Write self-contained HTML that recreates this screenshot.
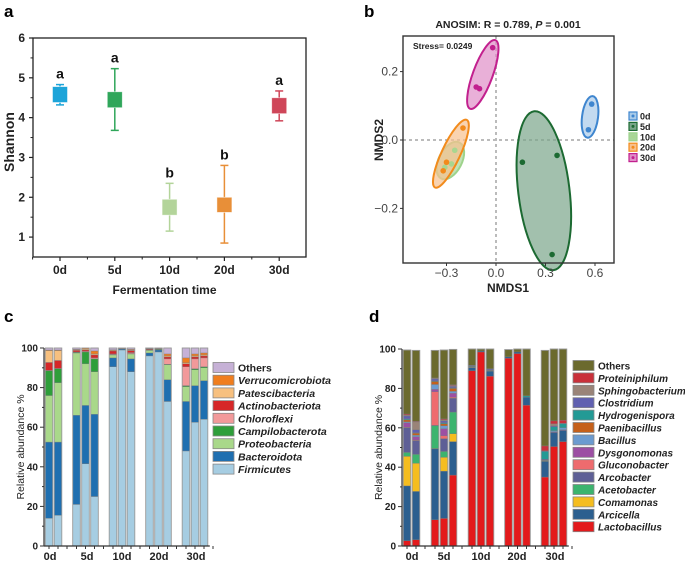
<!DOCTYPE html>
<html><head><meta charset="utf-8"><style>
body{margin:0;background:#fff}
svg{display:block;font-family:"Liberation Sans",Arial,sans-serif}
</style></head><body>
<svg id="fig" width="685" height="562" viewBox="0 0 685 562" xmlns="http://www.w3.org/2000/svg"></svg>
<script>
// ---------- Panel a data ----------
const aCats=["0d","5d","10d","20d","30d"];
const aBoxLow=[4.38,4.25,1.55,1.62,4.1];
const aBoxHigh=[4.78,4.65,1.95,2.0,4.5];
const aWhiskLow=[4.32,3.68,1.15,0.85,3.92];
const aWhiskHigh=[4.83,5.23,2.35,2.8,4.67];
const aLetters=["a","a","b","b","a"];
const aYTicks=[1,2,3,4,5,6];
// ---------- Panel b data ----------
const bGroups=["0d","5d","10d","20d","30d"];
const bX=[[0.58,0.56],[0.16,0.37,0.34],[-0.25,-0.27,-0.31],[-0.2,-0.3,-0.32],[-0.02,-0.12,-0.1]];
const bY=[[0.105,0.03],[-0.065,-0.045,-0.335],[-0.03,-0.07,-0.08],[0.035,-0.065,-0.09],[0.27,0.155,0.15]];
const bXTicks=[-0.3,0.0,0.3,0.6];
const bYTicks=[0.2,0.0,-0.2];
// ---------- Panel c data ----------
const cSeries=["Firmicutes","Bacteroidota","Proteobacteria","Campilobacterota","Chloroflexi","Actinobacteriota","Patescibacteria","Verrucomicrobiota","Others"];
const cGroups=["0d","5d","10d","20d","30d"];
const cGroupSizes=[2,3,3,3,3];
const cFirm=[14,15.5,21,41.5,25,90.5,99,88,96,98,73,48,62.5,64];
const cBact=[38.5,37,45,29.5,41.5,4.5,0.5,6.5,1.5,1,11,25,18.5,19.5];
const cProt=[23.5,30,31.5,21,21.5,1.5,0.1,2.5,1.3,0.2,7.5,7.5,8,6.5];
const cCamp=[12.5,7,0.3,6,6.5,0.2,0.1,0.2,0.2,0.3,0.3,0.5,0.5,0.5];
const cChlo=[0.2,0.2,0.2,0.3,0.5,0.3,0.1,0.5,0.1,0.1,2.7,9.5,5,4.5];
const cActi=[4,4,0.8,0.7,1.5,1.5,0.2,1,0.4,0.1,1,1.5,1,1];
const cPate=[6,5,0.3,0.5,0.5,0.3,0.1,0.3,0.1,0.1,0.5,0.5,0.5,0.5];
const cVerr=[0.3,0.3,0.2,0.5,1.5,0.3,0.1,0.3,0.1,0.1,1,2.5,1,1];
const cOthe=[1,1,0.7,0,1.5,0.9,0.2,0.7,0.3,0.1,3,5,3,2.5];
const cTicks=[0,20,40,60,80,100];
// ---------- Panel d data ----------
const dSeries=["Lactobacillus","Arcicella","Comamonas","Acetobacter","Arcobacter","Gluconobacter","Dysgonomonas","Bacillus","Paenibacillus","Hydrogenispora","Clostridium","Sphingobacterium","Proteiniphilum","Others"];
const dLact=[2.7,3.2,13.3,14,36,89,98.5,86.2,95.3,97.7,71.5,35,50.5,53];
const dArci=[27.8,24.5,36,24,17,1.5,0.5,2.6,0.7,0.8,4,8,7,5.5];
const dComa=[15,14.3,0.2,7,4,0.1,0,0.1,0,0,0,0.3,0,0];
const dAcet=[2,4.5,11.5,3,11,0.1,0,0.1,0,0,0,0.2,0,0];
const dArco=[12.5,7,0.3,6.5,7,0.1,0,0.1,0,0,0,0.5,0.5,0.5];
const dGluc=[0.3,0.3,17,1.5,0.5,0,0,0,0,0,0,0,0,0];
const dDysg=[2.2,1.7,1.2,3.5,2,0.1,0,0.1,0,0,0,0,0,0];
const dBaci=[0.5,0.7,2.5,1.5,1,0.1,0,0.1,0,0,0,0,0.5,1];
const dPaen=[1,1,1.5,1,1.5,0.1,0,0.1,0,0,0,0,0,0];
const dHydr=[0.5,0.3,0.3,0.5,0.3,0.3,0,0.1,0,0,0.7,4,2,2];
const dClos=[1.5,1.5,1,1,0.7,0.3,0,0.5,0,0,0,0.3,0.5,0.3];
const dSphi=[0.5,4,0.3,0.5,0.5,0,0,0,0,0,0,0,1,0];
const dProt=[0.5,0.3,0.2,0.5,0.3,0,0,0,0,0,0,2.5,1.5,1.5];
const dOthe=[32.5,36,14,35,18,8.5,1,10.5,3.7,1.5,23.8,48.5,36.5,36.2];
const dTicks=[0,20,40,60,80,100];
</script>
<script>
const NS="http://www.w3.org/2000/svg";
const svg=document.getElementById('fig');
function mk(tag,attrs,parent){const e=document.createElementNS(NS,tag);for(const k in attrs)e.setAttribute(k,attrs[k]);(parent||svg).appendChild(e);return e;}
function txt(s,attrs,parent){const e=mk('text',attrs,parent);e.textContent=s;return e;}
let el;

[["a",4,17],["b",364,17],["c",4,322],["d",369,322]].forEach(p=>{
  el=txt(p[0],{x:p[1],y:p[2],'font-size':17,'font-weight':'bold'});
  
  
});

// ================= Panel a =================
(function(){
  const L=33,R=306,T=38,B=257,ymin=0.5,ymax=6;
  const ys=v=>B-(v-ymin)/(ymax-ymin)*(B-T);
  const xs=i=>60+i*54.8;
  const colors=["#1ca4d9","#2fa65a","#b3d49a","#e88f38","#cf4659"];
  const g=mk('g',{});
  
  
  el=mk('rect',{x:L,y:T,width:R-L,height:B-T,fill:'none',stroke:'#222','stroke-width':1.3},g);
  
  
  aYTicks.forEach(t=>{
    mk('line',{x1:L-4,x2:L,y1:ys(t),y2:ys(t),stroke:'#222','stroke-width':1.2},g);
    el=txt(String(t),{x:L-8,y:ys(t)+4,'text-anchor':'end','font-size':12,'font-weight':'bold',fill:'#222'},g);
    
    
    if(t<6) mk('line',{x1:L-2.5,x2:L,y1:ys(t+0.5),y2:ys(t+0.5),stroke:'#222'},g);
  });
  aCats.forEach((c,i)=>{
    const x=xs(i);
    mk('line',{x1:x,x2:x,y1:B,y2:B+4,stroke:'#222','stroke-width':1.2},g);
    mk('line',{x1:x-27.4,x2:x-27.4,y1:B,y2:B+2.5,stroke:'#222'},g);
    el=txt(c,{x:x,y:B+17,'text-anchor':'middle','font-size':12,'font-weight':'bold',fill:'#222'},g);
    
    
    const col=colors[i];
    el=mk('line',{x1:x,x2:x,y1:ys(aWhiskLow[i]),y2:ys(aWhiskHigh[i]),stroke:col,'stroke-width':1.5},g);
    
    
    mk('line',{x1:x-4,x2:x+4,y1:ys(aWhiskLow[i]),y2:ys(aWhiskLow[i]),stroke:col,'stroke-width':1.5},g);
    mk('line',{x1:x-4,x2:x+4,y1:ys(aWhiskHigh[i]),y2:ys(aWhiskHigh[i]),stroke:col,'stroke-width':1.5},g);
    el=mk('rect',{x:x-7.5,y:ys(aBoxHigh[i]),width:15,height:ys(aBoxLow[i])-ys(aBoxHigh[i]),fill:col,stroke:'#fff','stroke-opacity':0.6,'stroke-width':0.8},g);
    
    
    el=txt(aLetters[i],{x:x,y:ys(aWhiskHigh[i])-6,'text-anchor':'middle','font-size':14,'font-weight':'bold',fill:'#111'},g);
    
    
  });
  el=txt("Shannon",{x:0,y:0,transform:'translate(14,142) rotate(-90)','text-anchor':'middle','font-size':14,'font-weight':'bold',fill:'#222'},g);
  
  
  el=txt("Fermentation time",{x:(L+R)/2-5,y:294,'text-anchor':'middle','font-size':12,'font-weight':'bold',fill:'#222'},g);
  
  
})();

// ================= Panel b =================
(function(){
  const L=403,R=614,T=36,B=263;
  const xs=v=>496+v*165;
  const ys=v=>140-v*342;
  const fill=["#a9cbe9","#7aa58a","#a8d69a","#f7c08e","#e08ec8"];
  const stroke=["#3f86cf","#1c6a32","#9ed38c","#f28b1c","#c2208e"];
  const dot=["#3f86cf","#1c6a32","#a9d690","#f28b1c","#c2208e"];
  const kA=[1,1.15,1,1,1];
  const kB=[1,1.1,1,0.6,1];
  const pad=[8,6,9,9,8];
  const g=mk('g',{});
  
  
  el=mk('line',{x1:L,x2:R,y1:ys(0),y2:ys(0),stroke:'#bbb','stroke-width':2,'stroke-dasharray':'3,3'},g);
  
  
  el=mk('line',{x1:xs(0),x2:xs(0),y1:T,y2:B,stroke:'#bbb','stroke-width':2,'stroke-dasharray':'3,3'},g);
  
  
  bGroups.forEach((gn,i)=>{
    const px=bX[i].map(xs), py=bY[i].map(ys);
    const n=px.length, mx=px.reduce((a,b)=>a+b)/n, my=py.reduce((a,b)=>a+b)/n;
    let sxx=0,syy=0,sxy=0;
    for(let j=0;j<n;j++){sxx+=(px[j]-mx)**2;syy+=(py[j]-my)**2;sxy+=(px[j]-mx)*(py[j]-my);}
    const th=0.5*Math.atan2(2*sxy,sxx-syy);
    let a=0,b=0;
    for(let j=0;j<n;j++){const dx=px[j]-mx,dy=py[j]-my;
      a=Math.max(a,Math.abs(dx*Math.cos(th)+dy*Math.sin(th)));
      b=Math.max(b,Math.abs(-dx*Math.sin(th)+dy*Math.cos(th)));}
    a=a*kA[i]+pad[i]; b=b*kB[i]+pad[i];
    el=mk('ellipse',{cx:mx,cy:my,rx:a,ry:b,transform:`rotate(${th*180/Math.PI} ${mx} ${my})`,fill:fill[i],'fill-opacity':0.7,stroke:stroke[i],'stroke-width':2},g);
    
    
  });
  bGroups.forEach((gn,i)=>{
    bX[i].forEach((v,j)=>{
      el=mk('circle',{cx:xs(v),cy:ys(bY[i][j]),r:2.8,fill:dot[i]},g);
      
      
    });
  });
  el=mk('rect',{x:L,y:T,width:R-L,height:B-T,fill:'none',stroke:'#333','stroke-width':1.4},g);
  
  
  bXTicks.forEach(t=>{
    mk('line',{x1:xs(t),x2:xs(t),y1:B,y2:B+3,stroke:'#333'},g);
    el=txt(t.toFixed(1).replace('-','\u2212'),{x:xs(t),y:B+14,'text-anchor':'middle','font-size':12,fill:'#444'},g);
    
    
  });
  bYTicks.forEach(t=>{
    mk('line',{x1:L-3,x2:L,y1:ys(t),y2:ys(t),stroke:'#333'},g);
    el=txt(t.toFixed(1).replace('-','\u2212'),{x:L-5,y:ys(t)+4,'text-anchor':'end','font-size':12,fill:'#444'},g);
    
    
  });
  el=txt("",{x:508,y:28,'text-anchor':'middle','font-size':10.5,'font-weight':'bold',fill:'#222'},g);
  el.innerHTML='ANOSIM: R = 0.789, <tspan font-style="italic">P</tspan> = 0.001';
  
  
  el=txt("Stress= 0.0249",{x:413,y:49,'font-size':8.5,'font-weight':'bold',fill:'#222'},g);
  
  
  el=txt("NMDS1",{x:508,y:292,'text-anchor':'middle','font-size':12,'font-weight':'bold',fill:'#222'},g);
  
  
  el=txt("NMDS2",{x:0,y:0,transform:'translate(383,140) rotate(-90)','text-anchor':'middle','font-size':12,'font-weight':'bold',fill:'#222'},g);
  
  
  bGroups.forEach((gn,i)=>{
    const y=116+i*10.4;
    el=mk('rect',{x:629,y:y-4,width:8,height:8,fill:fill[i],stroke:stroke[i],'stroke-width':1.2},g);
    
    
    mk('circle',{cx:633,cy:y,r:1.5,fill:dot[i]},g);
    el=txt(gn,{x:640,y:y+3.5,'font-size':9,'font-weight':'bold',fill:'#222'},g);
    
    
  });
})();

// ================= stacked bars helper =================
function stacked(cfg){
  const g=mk('g',{});
  
  
  const ys=v=>cfg.B-v/100*(cfg.B-cfg.T);
  mk('line',{x1:cfg.L,x2:cfg.L,y1:cfg.T,y2:cfg.B,stroke:'#333','stroke-width':1.2},g);
  cfg.ticks.forEach((t,k)=>{
    mk('line',{x1:cfg.L-4,x2:cfg.L,y1:ys(t),y2:ys(t),stroke:'#333'},g);
    if(k<cfg.ticks.length-1) mk('line',{x1:cfg.L-2,x2:cfg.L,y1:ys(t+10),y2:ys(t+10),stroke:'#333'},g);
    el=txt(String(t),{x:cfg.L-6,y:ys(t)+3.5,'text-anchor':'end','font-size':10,'font-weight':'bold',fill:'#222'},g);
    
    
  });
  el=txt("Relative abundance %",{x:0,y:0,transform:`translate(${cfg.L-20},${(cfg.T+cfg.B)/2}) rotate(-90)`,'text-anchor':'middle','font-size':10.5,fill:'#222'},g);
  
  
  let idx=0; const centers=[];
  cfg.groupSizes.forEach((n,gi)=>{
    const start=cfg.groupStart[gi];
    const cs=[];
    for(let j=0;j<n;j++){
      const cx=start+j*cfg.step; cs.push(cx);
      let cum=0;
      cfg.values.forEach((arr,si)=>{
        const v=arr[idx]; if(v<=0) return;
        el=mk('rect',{x:cx-cfg.bw/2,y:ys(Math.min(100,cum+v)),width:cfg.bw,height:ys(cum)-ys(Math.min(100,cum+v)),fill:cfg.colors[si],stroke:'#7a7a7a','stroke-width':0.35},g);
        
        
        cum+=v;
      });
      el=mk('rect',{x:cx-cfg.bw/2,y:ys(Math.min(100,cum)),width:cfg.bw,height:ys(0)-ys(Math.min(100,cum)),fill:'none',stroke:'#999','stroke-width':0.9},g);
      
      
      idx++;
    }
    centers.push(cs);
  });
  const xEnd=centers[centers.length-1].slice(-1)[0]+cfg.bw/2+2;
  mk('line',{x1:cfg.L,x2:xEnd,y1:cfg.B,y2:cfg.B,stroke:'#333','stroke-width':1.2},g);
  centers.forEach((cs,gi)=>{
    cs.forEach(cx=>mk('line',{x1:cx,x2:cx,y1:cfg.B,y2:cfg.B+3,stroke:'#333'},g));
    const last=cs[cs.length-1];
    mk('line',{x1:last+cfg.step,x2:last+cfg.step,y1:cfg.B,y2:cfg.B+3,stroke:'#333'},g);
    el=txt(cfg.groups[gi],{x:cfg.labelX[gi],y:cfg.B+14,'text-anchor':'middle','font-size':11,'font-weight':'bold',fill:'#222'},g);
    
    
  });
  const n=cfg.series.length;
  for(let k=0;k<n;k++){
    const si=n-1-k; const y=cfg.legY+k*cfg.legStep;
    el=mk('rect',{x:cfg.legX,y:y-cfg.legH/2,width:21,height:cfg.legH,fill:cfg.colors[si],stroke:'#888','stroke-width':0.8},g);
    
    
    el=txt(cfg.series[si],{x:cfg.legX+25,y:y+4,'font-size':cfg.legFont,'font-weight':'bold','font-style':si===n-1?'normal':'italic',fill:'#222'},g);
    
    
  }
}

stacked({name:'phylum-stacked-bar-chart',L:44,T:348,B:546,ticks:cTicks,
  series:cSeries,groups:cGroups,groupSizes:cGroupSizes,
  values:[cFirm,cBact,cProt,cCamp,cChlo,cActi,cPate,cVerr,cOthe],
  colors:["#a6cde2","#1f6fb0","#a9d88a","#2e9e3a","#f2999a","#d62728","#f7c07f","#f07e1e","#c6b1d6"],
  groupStart:[49,76.5,113,149.5,186],step:9,bw:7.6,labelX:[50,87,122,159,196],
  legX:213,legY:367.5,legStep:12.7,legH:10,legFont:10.5});

stacked({name:'genus-stacked-bar-chart',L:402,T:349,B:546,ticks:dTicks,
  series:dSeries,groups:cGroups,groupSizes:cGroupSizes,
  values:[dLact,dArci,dComa,dAcet,dArco,dGluc,dDysg,dBaci,dPaen,dHydr,dClos,dSphi,dProt,dOthe],
  colors:["#e31a1c","#2c5f8f","#f5bd1f","#3cb46e","#5e5f96","#ee6b6e","#9c4fa3","#6b9bd0","#c5601a","#239a95","#6060b0","#9a8478","#c9303a","#6b6a2e"],
  groupStart:[407,435,472,508.5,545],step:9,bw:7.6,labelX:[412,444,481,517,555],
  legX:573,legY:365.5,legStep:12.4,legH:10,legFont:10});
</script>
</body></html>
